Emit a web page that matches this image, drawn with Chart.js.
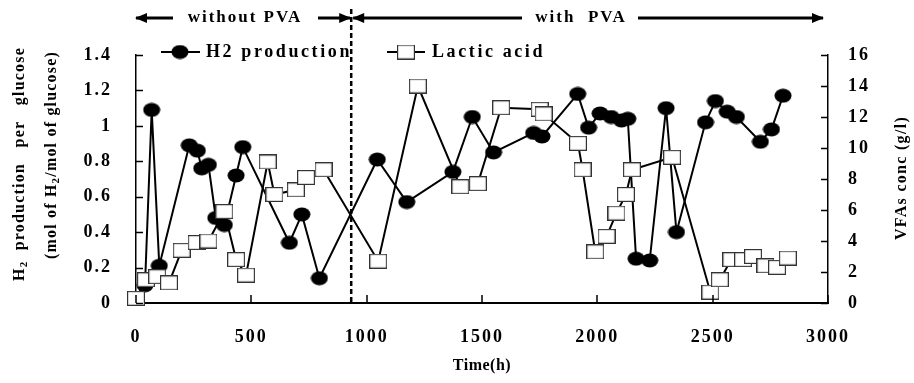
<!DOCTYPE html>
<html>
<head>
<meta charset="utf-8">
<script src="https://cdn.jsdelivr.net/npm/chart.js@4.4.1/dist/chart.umd.min.js"></script>
<style>
  html, body { margin: 0; padding: 0; background: #fff; }
  #wrap { width: 914px; height: 383px; position: relative; }
</style>
</head>
<body>
<div id="wrap"><canvas id="chart" width="914" height="383"></canvas></div>
<script>
// H2 production (mol H2 / mol glucose), left axis
const h2Time = [39, 68, 101, 231, 266, 285, 314, 346, 383, 434, 463, 665, 719, 795,
    1046, 1174, 1374, 1458, 1550, 1724, 1760, 1915, 1962, 2012, 2060, 2105, 2132,
    2168, 2227, 2298, 2343, 2469, 2512, 2563, 2603, 2707, 2755, 2805];
const h2Value = [0.10, 1.09, 0.21, 0.89, 0.86, 0.76, 0.78, 0.48, 0.44, 0.72, 0.88, 0.34, 0.50, 0.14,
    0.81, 0.57, 0.74, 1.05, 0.85, 0.96, 0.94, 1.18, 0.99, 1.07, 1.05, 1.03, 1.04,
    0.25, 0.24, 1.10, 0.40, 1.02, 1.14, 1.08, 1.05, 0.91, 0.98, 1.17];

// Lactic acid (g/l), right axis
const lacticTime = [0, 43, 92, 143, 198, 263, 314, 383, 434, 477, 571, 600, 693, 737, 813,
    1050, 1222, 1406, 1482, 1583, 1750, 1767, 1916, 1936, 1991, 2040, 2083, 2124, 2150,
    2324, 2490, 2531, 2581, 2632, 2675, 2729, 2779, 2826];
const lacticValue = [0.3, 1.5, 1.7, 1.3, 3.4, 3.9, 4.0, 5.9, 2.8, 1.8, 9.1, 7.0, 7.3, 8.1, 8.6,
    2.7, 14.0, 7.5, 7.7, 12.6, 12.5, 12.2, 10.3, 8.6, 3.3, 4.3, 5.8, 7.0, 8.6,
    9.4, 0.7, 1.5, 2.8, 2.8, 3.0, 2.4, 2.3, 2.9];

// time where PVA was added (dashed line)
const pvaStart = 933;

const seriesNames = ['H2 production', 'Lactic acid'];
const periodLabels = ['without PVA', 'with  PVA'];

const SERIF = "'Liberation Serif', 'Times New Roman', serif";

// marker images (markers are slightly wider than tall in the original)
function makeDot() {
    const c = document.createElement('canvas');
    c.width = 18; c.height = 15;
    const g = c.getContext('2d');
    g.fillStyle = '#000';
    g.beginPath();
    g.ellipse(9, 7.5, 8.5, 7, 0, 0, Math.PI * 2);
    g.fill();
    return c;
}
function makeBox() {
    const c = document.createElement('canvas');
    c.width = 18; c.height = 15;
    const g = c.getContext('2d');
    g.fillStyle = '#fff';
    g.fillRect(0, 0, 18, 15);
    g.strokeStyle = '#333';
    g.lineWidth = 1.2;
    g.strokeRect(0.6, 0.6, 16.8, 13.8);
    return c;
}
const dotImg = makeDot();
const boxImg = makeBox();

function toPoints(xs, ys) {
    return xs.map((x, i) => ({ x: x, y: ys[i] }));
}

// draw text made of pieces (for subscripts), centred at 0,0 of current transform
function drawRich(ctx, parts, size) {
    const widths = parts.map(p => {
        ctx.font = 'bold ' + (p.sub ? size * 0.68 : size) + 'px ' + SERIF;
        return ctx.measureText(p.t).width;
    });
    const total = widths.reduce((a, b) => a + b, 0);
    let x = -total / 2;
    parts.forEach((p, i) => {
        ctx.font = 'bold ' + (p.sub ? size * 0.68 : size) + 'px ' + SERIF;
        ctx.fillText(p.t, x, p.sub ? size * 0.28 : 0);
        x += widths[i];
    });
}

function arrow(ctx, x1, x2, y, headLeft) {
    ctx.lineWidth = 3;
    ctx.beginPath();
    ctx.moveTo(x1, y);
    ctx.lineTo(x2, y);
    ctx.stroke();
    const hx = headLeft ? x1 : x2;
    const d = headLeft ? 1 : -1;
    ctx.beginPath();
    ctx.moveTo(hx - d * 1, y);
    ctx.lineTo(hx + d * 11, y - 5);
    ctx.lineTo(hx + d * 11, y + 5);
    ctx.closePath();
    ctx.fill();
}

const decorPlugin = {
    id: 'decor',
    beforeUpdate(chart) { chart.ctx.letterSpacing = '2px'; },
    beforeDraw(chart) { chart.ctx.letterSpacing = '2px'; },
    afterDraw(chart) {
        const ctx = chart.ctx;
        const xs = chart.scales.x, yl = chart.scales.y, yr = chart.scales.y2;
        const area = chart.chartArea;
        ctx.save();
        ctx.strokeStyle = '#000';
        ctx.fillStyle = '#000';

        // inward tick marks
        ctx.lineWidth = 1.5;
        ctx.beginPath();
        yl.ticks.forEach((t, i) => {
            const p = Math.round(yl.getPixelForTick(i)) + 0.5;
            ctx.moveTo(area.left, p); ctx.lineTo(area.left + 7, p);
        });
        yr.ticks.forEach((t, i) => {
            const p = Math.round(yr.getPixelForTick(i)) + 0.5;
            ctx.moveTo(area.right, p); ctx.lineTo(area.right - 7, p);
        });
        xs.ticks.forEach((t, i) => {
            const p = Math.round(xs.getPixelForTick(i));
            ctx.moveTo(p, area.bottom); ctx.lineTo(p, area.bottom - 8);
        });
        ctx.stroke();

        // dashed separator
        const px = xs.getPixelForValue(pvaStart);
        ctx.lineWidth = 2.5;
        ctx.setLineDash([5, 3]);
        ctx.beginPath();
        ctx.moveTo(px, 9);
        ctx.lineTo(px, area.bottom);
        ctx.stroke();
        ctx.setLineDash([]);

        // period arrows
        const ay = 18;
        arrow(ctx, area.left, 173, ay, true);
        arrow(ctx, 318, px - 1, ay, false);
        arrow(ctx, px + 2, 522, ay, true);
        arrow(ctx, 638, 823, ay, false);
        ctx.textBaseline = 'middle';
        ctx.textAlign = 'center';
        ctx.letterSpacing = '2px';
        ctx.font = 'bold 17px ' + SERIF;
        ctx.fillText(periodLabels[0], 245, ay);
        ctx.fillText(periodLabels[1], 581, ay);

        // legend
        const ly = 52;
        ctx.lineWidth = 2;
        ctx.beginPath();
        ctx.moveTo(161, ly); ctx.lineTo(200, ly);
        ctx.moveTo(387, ly); ctx.lineTo(425, ly);
        ctx.stroke();
        ctx.drawImage(dotImg, 180 - 9, ly - 7.5);
        ctx.drawImage(boxImg, 406 - 9, ly - 7.5);
        ctx.textAlign = 'left';
        ctx.font = 'bold 18px ' + SERIF;
        ctx.letterSpacing = '2.6px';
        ctx.fillText(seriesNames[0], 206, ly);
        ctx.fillText(seriesNames[1], 432, ly);

        // left axis title (two lines, rotated)
        ctx.letterSpacing = '1.2px';
        ctx.textAlign = 'left';
        ctx.save();
        ctx.translate(20, 164);
        ctx.rotate(-Math.PI / 2);
        drawRich(ctx, [{ t: 'H' }, { t: '2', sub: true }, { t: '  production   per   glucose' }], 16);
        ctx.restore();
        ctx.save();
        ctx.translate(52, 155);
        ctx.rotate(-Math.PI / 2);
        drawRich(ctx, [{ t: '(mol of H' }, { t: '2', sub: true }, { t: '/mol of glucose)' }], 16);
        ctx.restore();

        // right axis title
        ctx.save();
        ctx.translate(902, 178);
        ctx.rotate(-Math.PI / 2);
        ctx.textAlign = 'center';
        ctx.font = 'bold 16px ' + SERIF;
        ctx.letterSpacing = '1.3px';
        ctx.fillText('VFAs conc (g/l)', 0, 0);
        ctx.restore();

        // x axis title
        ctx.textAlign = 'center';
        ctx.font = 'bold 16px ' + SERIF;
        ctx.letterSpacing = '0.5px';
        ctx.fillText('Time(h)', (area.left + area.right) / 2, 366);

        ctx.restore();
    }
};

const tickFont = { family: SERIF, size: 18, weight: 'bold' };
const plainNumber = v => String(Math.round(v * 10) / 10);

new Chart(document.getElementById('chart'), {
    type: 'line',
    data: {
        datasets: [
            {
                label: seriesNames[0],
                data: toPoints(h2Time, h2Value),
                yAxisID: 'y',
                borderColor: '#000',
                borderWidth: 2,
                pointStyle: dotImg,
                pointRadius: 8,
                tension: 0,
                clip: false,
                order: 1
            },
            {
                label: seriesNames[1],
                data: toPoints(lacticTime, lacticValue),
                yAxisID: 'y2',
                borderColor: '#000',
                borderWidth: 2,
                pointStyle: boxImg,
                pointRadius: 8,
                tension: 0,
                clip: false,
                order: 0
            }
        ]
    },
    options: {
        responsive: false,
        animation: false,
        devicePixelRatio: 1,
        layout: { padding: { top: 55, left: 0, right: 0, bottom: 0 } },
        plugins: {
            legend: { display: false },
            tooltip: { enabled: false }
        },
        scales: {
            x: {
                type: 'linear',
                min: 0,
                max: 3000,
                ticks: { stepSize: 500, font: tickFont, color: '#000', padding: 24, maxRotation: 0, callback: plainNumber },
                grid: { display: false, drawTicks: false },
                border: { display: true, color: '#000', width: 2 },
                afterFit(s) { s.height = 80; }
            },
            y: {
                position: 'left',
                min: 0,
                max: 1.4,
                ticks: { stepSize: 0.2, font: tickFont, color: '#000', padding: 24, callback: plainNumber },
                grid: { display: false, drawTicks: false },
                border: { display: true, color: '#000', width: 1.5 },
                afterFit(s) { s.width = 136; }
            },
            y2: {
                position: 'right',
                min: 0,
                max: 16,
                ticks: { stepSize: 2, font: tickFont, color: '#000', padding: 20, callback: plainNumber },
                grid: { display: false, drawTicks: false },
                border: { display: true, color: '#000', width: 1.5 },
                afterFit(s) { s.width = 86; }
            }
        }
    },
    plugins: [decorPlugin]
});
</script>
</body>
</html>
